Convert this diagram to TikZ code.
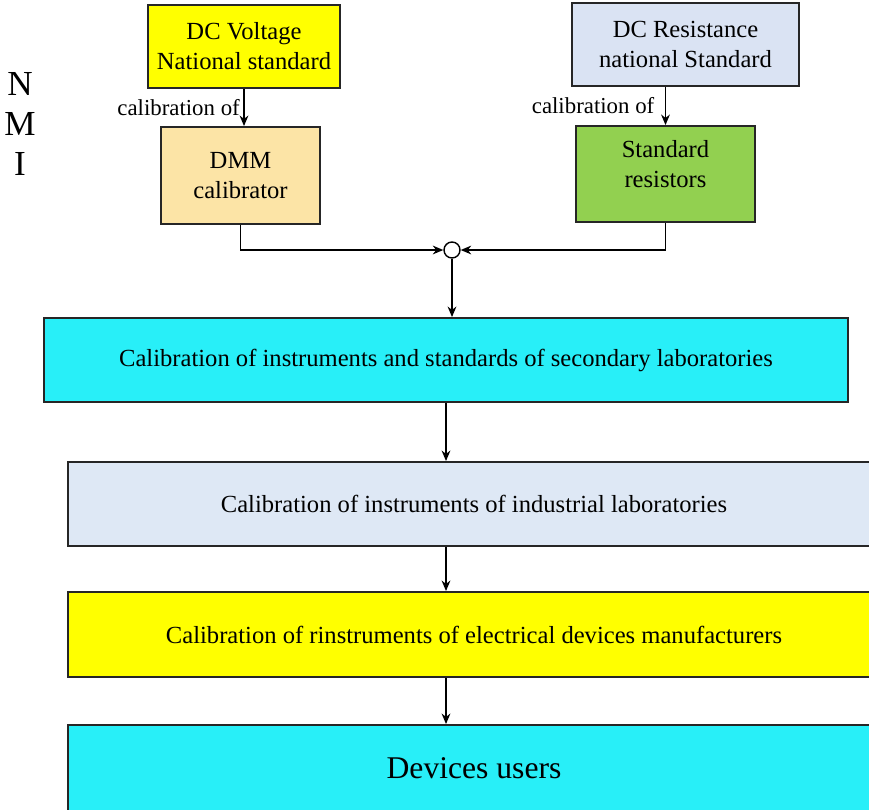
\documentclass[tikz,border=0pt]{standalone}
\usepackage{fontspec}
\setmainfont{Liberation Serif}
\usetikzlibrary{arrows.meta}
\definecolor{voltyellow}{HTML}{FFFF00}
\definecolor{dmmorange}{HTML}{FCE4A6}
\definecolor{resblue}{HTML}{DAE3F3}
\definecolor{resgreen}{HTML}{92D050}
\definecolor{labcyan}{HTML}{28EFF8}
\definecolor{indblue}{HTML}{DEE8F5}

\begin{document}
\begin{tikzpicture}[x=0.02cm,y=-0.02cm,
  box/.style={draw=black!85,line width=1.1pt,rectangle,align=center,inner sep=0pt,
    font=\fontsize{14}{17}\selectfont},
  flow/.style={-{Stealth[length=6pt,width=5pt]},line width=0.8pt},
  calib/.style={font=\fontsize{13}{15}\selectfont,inner sep=2pt}]
\useasboundingbox (0,0) rectangle (869,809);
\clip (0,0) rectangle (869,809);
% NMI side label
\node[align=center,font=\fontsize{20}{22.7}\selectfont] (nmi) at (20,124) {N\\M\\I};
% national standards
\node[box,fill=voltyellow,minimum width=3.84cm,minimum height=1.66cm] (volt) at (244,46.5) {DC Voltage\\National standard};
\node[box,fill=dmmorange,minimum width=3.18cm,minimum height=1.94cm] (dmm) at (240.5,175.5) {DMM\\calibrator};
\node[box,fill=resblue,minimum width=4.54cm,minimum height=1.66cm] (dcr) at (685.5,44.5) {DC Resistance\\national Standard};
\node[box,fill=resgreen,minimum width=3.58cm,minimum height=1.92cm,
  label={[align=center,font=\fontsize{14}{17}\selectfont,yshift=0.2cm]center:Standard\\resistors}] (stdres) at (665.5,174) {};
\node[draw,circle,line width=0.8pt,minimum size=0.32cm,inner sep=0pt] (sum) at (452,250) {};
% chain of laboratories
\node[box,fill=labcyan,minimum width=16.08cm,minimum height=1.68cm] (sec) at (446,360) {Calibration of instruments and standards of secondary laboratories};
\node[box,fill=indblue,minimum width=16.24cm,minimum height=1.68cm] (ind) at (474,504) {Calibration of instruments of industrial laboratories};
\node[box,fill=voltyellow,minimum width=16.24cm,minimum height=1.7cm] (manu) at (474,634.5) {Calibration of rinstruments of electrical devices manufacturers};
\node[box,fill=labcyan,minimum width=16.24cm,minimum height=1.72cm,font=\fontsize{18}{21}\selectfont] (users) at (474,768) {Devices users};
% arrows
\draw[flow] (volt.south) -- node[calib,left] {calibration of} (volt.south |- dmm.north);
\draw[flow] (dcr.south -| stdres.north) -- node[calib,left,xshift=-4pt] {calibration of} (stdres.north);
\draw[flow] (dmm.south) |- (sum.west);
\draw[flow] (stdres.south) |- (sum.east);
\draw[flow] (sum.south) -- (sum.south |- sec.north);
\draw[flow] (sec.south) -- (sec.south |- ind.north);
\draw[flow] (sec.south |- ind.south) -- (sec.south |- manu.north);
\draw[flow] (sec.south |- manu.south) -- (sec.south |- users.north);
\end{tikzpicture}
\end{document}
